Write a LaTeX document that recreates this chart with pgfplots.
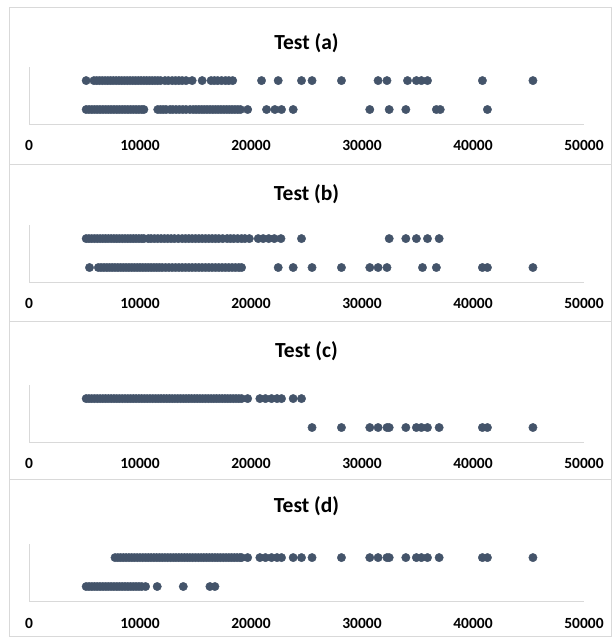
\documentclass[border=0pt]{standalone}
\usepackage{pgfplots}
\pgfplotsset{compat=1.18}
\usepackage{fontspec}
\setmainfont{Carlito}
\definecolor{dotc}{RGB}{68,84,106}
\definecolor{axc}{RGB}{217,217,217}
\definecolor{panc}{RGB}{217,217,217}
\pgfplotsset{
  panel/.style={
    scale only axis, width=555pt, height=57pt,
    xmin=0, xmax=50000, ymin=0.5, ymax=2.47,
    axis x line=bottom, axis y line=left,
    axis line style={-, draw=axc, line width=0.8pt},
    scaled ticks=false,
    xtick={0,10000,20000,30000,40000,50000},
    xticklabels={0,10000,20000,30000,40000,50000},
    ytick=\empty, major tick length=0pt,
    xticklabel style={anchor=base, yshift=-27pt, font=\bfseries\fontsize{15.5}{16}\selectfont, text=black},
    title style={at={(0.5,1)}, anchor=center, font=\bfseries\fontsize{21.5}{24}\selectfont},
    clip=false,
  }
}
\begin{document}
\begin{tikzpicture}
\useasboundingbox (0pt,0pt) rectangle (612pt,637pt);
% panel frames
\draw[panc, line width=1pt] (9pt,629pt) rectangle (611pt,472pt);
\draw[panc, line width=1pt] (9pt,472pt) rectangle (611pt,315pt);
\draw[panc, line width=1pt] (9pt,315pt) rectangle (611pt,157pt);
\draw[panc, line width=1pt] (9pt,157pt) rectangle (611pt,0pt);

% ---------------- Test (a)
\begin{axis}[panel, at={(29pt,513pt)}, anchor=south west, title={Test (a)}, title style={yshift=18pt}]
\addplot[only marks, mark=*, mark size=4.2pt, dotc] coordinates {(5150,2)(5850,2)(6100,2)(6350,2)(6600,2)(6850,2)(7100,2)(7350,2)(7600,2)(7850,2)(8100,2)(8350,2)(8600,2)(8850,2)(9100,2)(9350,2)(9600,2)(9850,2)(10100,2)(10350,2)(10600,2)(10850,2)(11100,2)(11350,2)(11600,2)(11850,2)(12250,2)(12550,2)(12900,2)(13200,2)(13500,2)(13800,2)(14150,2)(14700,2)(15600,2)(16400,2)(16700,2)(17000,2)(17350,2)(17700,2)(18000,2)(18350,2)(20950,2)(22450,2)(24550,2)(25500,2)(28150,2)(31450,2)(32250,2)(34100,2)(34900,2)(35350,2)(35900,2)(40850,2)(45400,2)};
\addplot[only marks, mark=*, mark size=4.2pt, dotc] coordinates {(5150,1)(5400,1)(5650,1)(5900,1)(6150,1)(6400,1)(6650,1)(6900,1)(7150,1)(7400,1)(7650,1)(7900,1)(8150,1)(8400,1)(8650,1)(8900,1)(9150,1)(9400,1)(9650,1)(9900,1)(10150,1)(10350,1)(11600,1)(11850,1)(12100,1)(12350,1)(12700,1)(12950,1)(13250,1)(13550,1)(13850,1)(14150,1)(14500,1)(14800,1)(15050,1)(15300,1)(15550,1)(15800,1)(16050,1)(16300,1)(16550,1)(16800,1)(17050,1)(17300,1)(17550,1)(17800,1)(18050,1)(18300,1)(18550,1)(18800,1)(19050,1)(19700,1)(21400,1)(22150,1)(22750,1)(23800,1)(30700,1)(32450,1)(33950,1)(36700,1)(37050,1)(41300,1)};
\end{axis}

% ---------------- Test (b)
\begin{axis}[panel, at={(29pt,355pt)}, anchor=south west, title={Test (b)}, title style={yshift=25pt}]
\addplot[only marks, mark=*, mark size=4.2pt, dotc] coordinates {(5150,2)(5400,2)(5650,2)(5900,2)(6150,2)(6400,2)(6650,2)(6900,2)(7150,2)(7400,2)(7650,2)(7900,2)(8150,2)(8400,2)(8650,2)(8900,2)(9150,2)(9400,2)(9650,2)(9900,2)(10150,2)(10350,2)(10750,2)(11000,2)(11300,2)(11600,2)(11900,2)(12200,2)(12500,2)(12800,2)(13100,2)(13450,2)(13800,2)(14100,2)(14400,2)(14700,2)(15000,2)(15300,2)(15600,2)(15900,2)(16200,2)(16500,2)(16800,2)(17100,2)(17450,2)(17850,2)(18150,2)(18450,2)(18800,2)(19150,2)(19450,2)(19850,2)(20650,2)(21100,2)(21600,2)(22100,2)(22700,2)(24550,2)(32450,2)(33950,2)(34900,2)(35900,2)(36950,2)};
\addplot[only marks, mark=*, mark size=4.2pt, dotc] coordinates {(5450,1)(6250,1)(6500,1)(6750,1)(7000,1)(7250,1)(7500,1)(7750,1)(8000,1)(8250,1)(8500,1)(8750,1)(9000,1)(9250,1)(9500,1)(9750,1)(10000,1)(10250,1)(10500,1)(10750,1)(11000,1)(11250,1)(11500,1)(11750,1)(12000,1)(12300,1)(12600,1)(12900,1)(13200,1)(13500,1)(13800,1)(14100,1)(14400,1)(14700,1)(15000,1)(15300,1)(15600,1)(15900,1)(16200,1)(16500,1)(16800,1)(17100,1)(17400,1)(17700,1)(18000,1)(18300,1)(18600,1)(18900,1)(19150,1)(22450,1)(23800,1)(25500,1)(28150,1)(30700,1)(31450,1)(32250,1)(35450,1)(36700,1)(40850,1)(41300,1)(45400,1)};
\end{axis}

% ---------------- Test (c)
\begin{axis}[panel, at={(29pt,195pt)}, anchor=south west, title={Test (c)}, title style={yshift=28pt}]
\addplot[only marks, mark=*, mark size=4.2pt, dotc] coordinates {(5150,2)(5400,2)(5650,2)(5900,2)(6150,2)(6400,2)(6650,2)(6900,2)(7150,2)(7400,2)(7650,2)(7900,2)(8150,2)(8400,2)(8650,2)(8900,2)(9150,2)(9400,2)(9650,2)(9900,2)(10150,2)(10400,2)(10650,2)(10900,2)(11150,2)(11400,2)(11650,2)(11900,2)(12150,2)(12400,2)(12650,2)(12900,2)(13150,2)(13400,2)(13650,2)(13900,2)(14150,2)(14400,2)(14650,2)(14900,2)(15150,2)(15400,2)(15650,2)(15900,2)(16150,2)(16400,2)(16650,2)(16900,2)(17150,2)(17400,2)(17650,2)(17900,2)(18150,2)(18400,2)(18650,2)(18900,2)(19150,2)(19700,2)(20800,2)(21300,2)(21850,2)(22350,2)(22750,2)(23800,2)(24550,2)};
\addplot[only marks, mark=*, mark size=4.2pt, dotc] coordinates {(25500,1)(28150,1)(30700,1)(31450,1)(32250,1)(32450,1)(33950,1)(34900,1)(35350,1)(35900,1)(36950,1)(40850,1)(41300,1)(45400,1)};
\end{axis}

% ---------------- Test (d)
\begin{axis}[panel, at={(29pt,36pt)}, anchor=south west, title={Test (d)}, title style={yshift=32pt}]
\addplot[only marks, mark=*, mark size=4.2pt, dotc] coordinates {(7750,2)(8000,2)(8250,2)(8500,2)(8750,2)(9000,2)(9250,2)(9500,2)(9750,2)(10000,2)(10250,2)(10500,2)(10750,2)(11000,2)(11250,2)(11500,2)(11750,2)(12000,2)(12250,2)(12500,2)(12750,2)(13000,2)(13250,2)(13500,2)(13750,2)(14000,2)(14250,2)(14500,2)(14750,2)(15000,2)(15250,2)(15500,2)(15750,2)(16000,2)(16250,2)(16500,2)(16750,2)(17000,2)(17250,2)(17500,2)(17750,2)(18000,2)(18250,2)(18500,2)(18750,2)(19000,2)(19150,2)(19700,2)(20800,2)(21300,2)(21850,2)(22350,2)(22750,2)(23800,2)(24550,2)(25500,2)(28150,2)(30700,2)(31450,2)(32250,2)(32450,2)(33950,2)(34900,2)(35350,2)(35900,2)(36950,2)(40850,2)(41300,2)(45400,2)};
\addplot[only marks, mark=*, mark size=4.2pt, dotc] coordinates {(5150,1)(5400,1)(5650,1)(5900,1)(6150,1)(6400,1)(6650,1)(6900,1)(7150,1)(7400,1)(7650,1)(7900,1)(8150,1)(8400,1)(8650,1)(8900,1)(9150,1)(9400,1)(9650,1)(9900,1)(10150,1)(10500,1)(11550,1)(13900,1)(16300,1)(16750,1)};
\end{axis}
\end{tikzpicture}
\end{document}
